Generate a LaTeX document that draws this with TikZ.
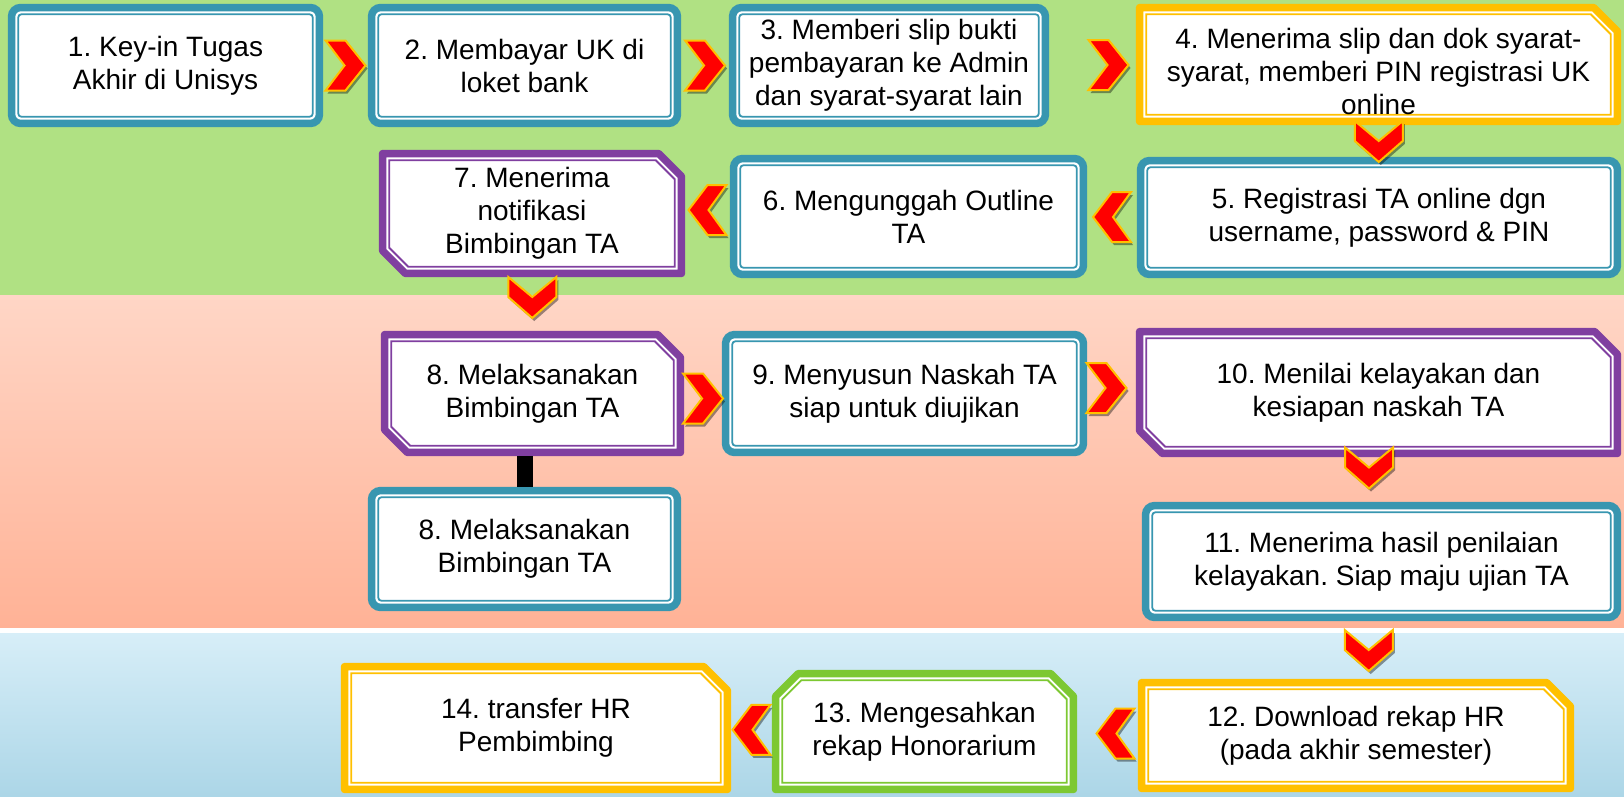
\documentclass[tikz,border=0pt]{standalone}
\usepackage{fontspec}
\setmainfont{Liberation Sans}
\usetikzlibrary{calc, shadows}

\definecolor{tealc}{RGB}{56,150,176}
\definecolor{purplec}{RGB}{128,63,160}
\definecolor{goldc}{RGB}{255,192,0}
\definecolor{greenc}{RGB}{125,200,50}
\definecolor{bandgreen}{RGB}{176,225,131}
\definecolor{peachtop}{RGB}{255,214,198}
\definecolor{peachbot}{RGB}{255,178,150}
\definecolor{bluetop}{RGB}{215,238,248}
\definecolor{bluebot}{RGB}{172,214,231}

\pgfdeclarelayer{bg}
\pgfdeclarelayer{frame}
\pgfsetlayers{bg,frame,main}

% frames: thick outer line, thin inner line
\newcommand{\rframe}[2]{%
  \begin{pgfonlayer}{frame}
  \draw[#2, fill=white, line width=7.5pt, rounded corners=9pt]
    ([shift={(3.75pt,3.75pt)}]#1.south west) rectangle ([shift={(-3.75pt,-3.75pt)}]#1.north east);
  \draw[#2, line width=1.8pt, rounded corners=3pt]
    ([shift={(10.5pt,10.5pt)}]#1.south west) rectangle ([shift={(-10.5pt,-10.5pt)}]#1.north east);
  \end{pgfonlayer}}
\newcommand{\snipNE}[2]{%
  \begin{pgfonlayer}{frame}
  \draw[#2, fill=white, line width=7.5pt, line join=round]
    ([shift={(3.75pt,-3.75pt)}]#1.north west) -- ([shift={(-27.5pt,-3.75pt)}]#1.north east)
    -- ([shift={(-3.75pt,-27.5pt)}]#1.north east) -- ([shift={(-3.75pt,3.75pt)}]#1.south east)
    -- ([shift={(3.75pt,3.75pt)}]#1.south west) -- cycle;
  \draw[#2, line width=1.8pt]
    ([shift={(10.5pt,-10.5pt)}]#1.north west) -- ([shift={(-30.4pt,-10.5pt)}]#1.north east)
    -- ([shift={(-10.5pt,-30.4pt)}]#1.north east) -- ([shift={(-10.5pt,10.5pt)}]#1.south east)
    -- ([shift={(10.5pt,10.5pt)}]#1.south west) -- cycle;
  \end{pgfonlayer}}
\newcommand{\snipNESW}[2]{%
  \begin{pgfonlayer}{frame}
  \draw[#2, fill=white, line width=7.5pt, line join=round]
    ([shift={(3.75pt,-3.75pt)}]#1.north west) -- ([shift={(-26.5pt,-3.75pt)}]#1.north east)
    -- ([shift={(-3.75pt,-26.5pt)}]#1.north east) -- ([shift={(-3.75pt,3.75pt)}]#1.south east)
    -- ([shift={(26.5pt,3.75pt)}]#1.south west) -- ([shift={(3.75pt,26.5pt)}]#1.south west) -- cycle;
  \draw[#2, line width=1.8pt]
    ([shift={(10.5pt,-10.5pt)}]#1.north west) -- ([shift={(-29.4pt,-10.5pt)}]#1.north east)
    -- ([shift={(-10.5pt,-29.4pt)}]#1.north east) -- ([shift={(-10.5pt,10.5pt)}]#1.south east)
    -- ([shift={(29.4pt,10.5pt)}]#1.south west) -- ([shift={(10.5pt,29.4pt)}]#1.south west) -- cycle;
  \end{pgfonlayer}}
\newcommand{\snipNWNE}[2]{%
  \begin{pgfonlayer}{frame}
  \draw[#2, fill=white, line width=7.5pt, line join=round]
    ([shift={(3.75pt,-26.5pt)}]#1.north west) -- ([shift={(26.5pt,-3.75pt)}]#1.north west)
    -- ([shift={(-26.5pt,-3.75pt)}]#1.north east) -- ([shift={(-3.75pt,-26.5pt)}]#1.north east)
    -- ([shift={(-3.75pt,3.75pt)}]#1.south east) -- ([shift={(3.75pt,3.75pt)}]#1.south west) -- cycle;
  \draw[#2, line width=1.8pt]
    ([shift={(10.5pt,-29.4pt)}]#1.north west) -- ([shift={(29.4pt,-10.5pt)}]#1.north west)
    -- ([shift={(-29.4pt,-10.5pt)}]#1.north east) -- ([shift={(-10.5pt,-29.4pt)}]#1.north east)
    -- ([shift={(-10.5pt,10.5pt)}]#1.south east) -- ([shift={(10.5pt,10.5pt)}]#1.south west) -- cycle;
  \end{pgfonlayer}}

% chevron connectors between two boxes
\newcommand{\chevR}[3][(0,0)]{%
  \path ($(#2.east)!0.5!(#3.west)$) ++#1 coordinate (c);
  \draw[chev] ($(c)+(-20,-25)$) -- ++(20,0) -- ++(20,25) -- ++(-20,25) -- ++(-20,0) -- ++(19,-25) -- cycle;}
\newcommand{\chevL}[3][(0,0)]{%
  \path ($(#2.west)!0.5!(#3.east)$) ++#1 coordinate (c);
  \draw[chev] ($(c)+(19,-25)$) -- ++(-19,0) -- ++(-19,25) -- ++(19,25) -- ++(19,0) -- ++(-18,-25) -- cycle;}
\newcommand{\chevD}[3][(0,0)]{%
  \path ($(#2.south)!0.5!(#3.north)$) ++#1 coordinate (c);
  \draw[chev] ($(c)+(-24,-20)$) -- ++(24,20) -- ++(24,-20) -- ++(0,20) -- ++(-24,21) -- ++(-24,-21) -- cycle;}

\begin{document}
\begin{tikzpicture}[x=1pt, y=-1pt,
  box/.style={rectangle, inner sep=0pt, align=center, font=\fontsize{28}{33}\selectfont\frenchspacing},
  chev/.style={fill=red, draw=goldc, line width=2pt, line join=miter,
    drop shadow={shadow xshift=2pt, shadow yshift=-3pt, opacity=0.4, fill=black}}]

\useasboundingbox (0,0) rectangle (1624,796);
\begin{pgfonlayer}{bg}
  \fill[bandgreen] (0,0) rectangle (1624,295);
  \shade[top color=peachtop, bottom color=peachbot] (0,295) rectangle (1624,628);
  \fill[white] (0,628) rectangle (1624,633);
  \shade[top color=bluetop, bottom color=bluebot] (0,633) rectangle (1624,796);
\end{pgfonlayer}

\node[box, minimum width=315pt, minimum height=123pt] (b1) at (165.5,65.5) {1. Key-in Tugas\\Akhir di Unisys};
\node[box, minimum width=313pt, minimum height=123pt] (b2) at (524.5,65.5) {2. Membayar UK di\\loket bank};
\node[box, minimum width=320pt, minimum height=123pt] (b3) at (889,65.5) {3. Memberi slip bukti\\pembayaran ke Admin\\dan syarat-syarat lain};
\node[box, minimum width=485pt, minimum height=121pt] (b4) at (1378.5,64.5) {\rule{0pt}{34pt}4. Menerima slip dan dok syarat-\\syarat, memberi PIN registrasi UK\\online};
\node[box, minimum width=484pt, minimum height=121pt] (b5) at (1379,217.5) {5. Registrasi TA online dgn\\username, password \& PIN};
\node[box, minimum width=357pt, minimum height=123pt] (b6) at (908.5,216.5) {6. Mengunggah Outline\\TA};
\node[box, minimum width=306pt, minimum height=127pt] (b7) at (532,213.5) {7. Menerima\\notifikasi\\Bimbingan TA};
\node[box, minimum width=303pt, minimum height=125pt] (b8) at (532.5,393.5) {8. Melaksanakan\\Bimbingan TA};
\node[box, minimum width=365pt, minimum height=125pt] (b9) at (904.5,393.5) {9. Menyusun Naskah TA\\siap untuk diujikan};
\node[box, minimum width=485pt, minimum height=129pt] (b10) at (1378.5,392.5) {10. Menilai kelayakan dan\\kesiapan naskah TA};
\node[box, minimum width=313pt, minimum height=124pt] (b8b) at (524.5,549) {8. Melaksanakan\\Bimbingan TA};
\node[box, minimum width=479pt, minimum height=119pt] (b11) at (1381.5,561.5) {11. Menerima hasil penilaian\\kelayakan. Siap maju ujian TA};
\node[box, minimum width=436pt, minimum height=113pt] (b12) at (1356,735.5) {12. Download rekap HR\\(pada akhir semester)};
\node[box, minimum width=305pt, minimum height=123pt] (b13) at (924.5,731.5) {13. Mengesahkan\\rekap Honorarium};
\node[box, minimum width=390pt, minimum height=130pt] (b14) at (536,728) {14. transfer HR\\Pembimbing};

\rframe{b1}{tealc}
\rframe{b2}{tealc}
\rframe{b3}{tealc}
\snipNE{b4}{goldc}
\rframe{b5}{tealc}
\rframe{b6}{tealc}
\snipNESW{b7}{purplec}
\snipNESW{b8}{purplec}
\rframe{b9}{tealc}
\snipNESW{b10}{purplec}
\rframe{b8b}{tealc}
\rframe{b11}{tealc}
\snipNE{b12}{goldc}
\snipNWNE{b13}{greenc}
\snipNE{b14}{goldc}

\draw[line width=16pt] (b8b.north) -- (b8b.north |- b8.south);

\chevR{b1}{b2}
\chevR{b2}{b3}
\chevR[(16,0)]{b3}{b4}
\chevD{b4}{b5}
\chevL{b5}{b6}
\chevL[(0,-5)]{b6}{b7}
\chevD[(0,-7)]{b7}{b8}
\chevR[(0,5)]{b8}{b9}
\chevR[(-5,-5)]{b9}{b10}
\chevD[(-11,-12)]{b10}{b11}
\chevD{b11}{b12}
\chevL[(8,0)]{b12}{b13}
\chevL{b13}{b14}

\end{tikzpicture}
\end{document}
